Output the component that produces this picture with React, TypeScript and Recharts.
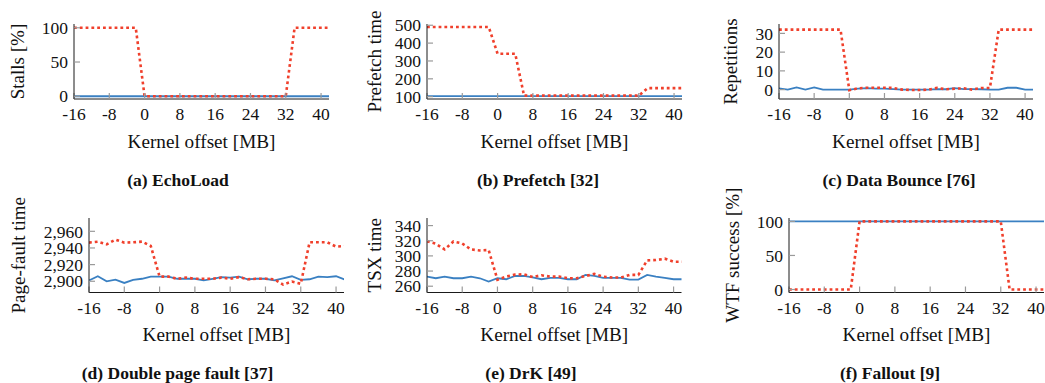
import React from 'react';
import { LineChart, Line, XAxis, YAxis } from 'recharts';

const FONT = '"Liberation Serif", "DejaVu Serif", serif';
const BLUE = '#3a80c2';
const RED = '#f0402c';

// Kernel offsets in MB
const offsets = [-16, -14, -12, -10, -8, -6, -4, -2, 0, 2, 4, 6, 8, 10, 12, 14, 16, 18, 20, 22, 24, 26, 28, 30, 32, 34, 36, 38, 40, 42];
const xTicks = [-16, -8, 0, 8, 16, 24, 32, 40];
const X_DOMAIN: [number, number] = [-16, 41.8];

// (a) EchoLoad
const echoBase = [0, 0, 0, 0, 0, 0, 0, 0, 0, 0, 0, 0, 0, 0, 0, 0, 0, 0, 0, 0, 0, 0, 0, 0, 0, 0, 0, 0, 0, 0];
const echoKaslr = [100, 100, 100, 100, 100, 100, 100, 100, 0, 0, 0, 0, 0, 0, 0, 0, 0, 0, 0, 0, 0, 0, 0, 0, 0, 100, 100, 100, 100, 100];
const echoTicks = [0, 50, 100];

// (b) Prefetch
const prefBase = [103, 103, 103, 103, 103, 103, 103, 103, 103, 103, 103, 103, 103, 103, 103, 103, 103, 103, 103, 103, 103, 103, 103, 103, 103, 103, 103, 103, 103, 103];
const prefKaslr = [490, 490, 490, 490, 490, 490, 490, 490, 340, 340, 340, 106, 106, 106, 106, 106, 106, 106, 106, 106, 106, 106, 106, 106, 106, 148, 148, 148, 148, 148];
const prefTicks = [100, 200, 300, 400, 500];

// (c) Data Bounce
const bounceBase = [0.7, 0, 1.2, 0, 1.2, 0, 0, 0, 0, 0.5, 0.8, 0.5, 0.5, 0.3, 0, 0, 0, 0, 0.3, 0.2, 0.8, 0.3, 0.3, 0.2, 0, 0, 1, 1, 0, 0];
const bounceKaslr = [32, 32, 32, 32, 32, 32, 32, 32, -0.3, 0.7, 1, 1, 1, 0.9, 0, -0.2, -0.2, 0, 0.9, 0.2, 0.5, 0.7, 0, 0.9, 0.9, 32, 32, 32, 32, 32];
const bounceTicks = [0, 10, 20, 30];

// (d) Double page fault
const dpfBase = [2901, 2906, 2900, 2902, 2898, 2901.6, 2903, 2905.6, 2905.6, 2905.6, 2903, 2903, 2903, 2901, 2903, 2905, 2904.4, 2905.6, 2902.4, 2903, 2903, 2901, 2903.6, 2906, 2901.6, 2902.4, 2905.6, 2905, 2906, 2902];
const dpfKaslr = [2946.4, 2947.6, 2944.4, 2950, 2946.4, 2946.8, 2947.6, 2942.4, 2905.6, 2905.6, 2903, 2904.4, 2903, 2903, 2903, 2904.4, 2903, 2905, 2902.4, 2903, 2903, 2902.4, 2896, 2899.6, 2897, 2946.8, 2946.8, 2946.8, 2941.6, 2942.4];
const dpfTicks = [2900, 2920, 2940, 2960];

// (e) DrK
const drkBase = [272.7, 270.5, 272.7, 270.5, 270.5, 272.7, 270.5, 266.1, 270.5, 269.2, 273.5, 273.5, 271.8, 269.2, 270.9, 270.9, 269.2, 269.2, 274.9, 273.5, 270.9, 270.9, 270.9, 268.7, 268.7, 274.9, 272.7, 270.9, 269.2, 269.2];
const drkKaslr = [319.5, 316, 308.5, 319, 316.4, 308.5, 307.2, 307.7, 268.5, 272.7, 275.3, 275.7, 272.2, 274.4, 272.7, 272.7, 270.5, 270.5, 273.5, 276.2, 272.7, 271.4, 271.4, 274.9, 274.9, 294.1, 294.5, 296.3, 292.3, 292.3];
const drkTicks = [260, 280, 300, 320, 340];

// (f) Fallout
const fallBase = [100, 100, 100, 100, 100, 100, 100, 100, 100, 100, 100, 100, 100, 100, 100, 100, 100, 100, 100, 100, 100, 100, 100, 100, 100, 100, 100, 100, 100, 100];
const fallKaslr = [0, 0, 0, 0, 0, 0, 0, 0, 100, 100, 100, 100, 100, 100, 100, 100, 100, 100, 100, 100, 100, 100, 100, 100, 100, 0, 0, 0, 0, 0];
const fallTicks = [0, 50, 100];

const YW = 80;
const MT = 60;
const MR = 12;
const XH = 100;
const TICK = -6;

const tickLineStyle = { stroke: '#9a9a9a', strokeWidth: 1.2 };
const axisStyle = { stroke: '#1a1a1a', strokeWidth: 1 };
const tickText = { fontSize: 17.5, fill: '#111', fontFamily: FONT };

type PanelProps = {
  left: number;
  top: number;
  w: number;
  h: number;
  yDomain: [number, number];
  yTicks: number[];
  yFmt?: (v: number) => string;
  baseline: number[];
  kaslr: number[];
  yLabel: string;
  yLabelX: number;
  title: string;
  titleX: number;
};

function Panel(p: PanelProps) {
  const data = offsets.map((x, i) => ({ x, base: p.baseline[i], kaslr: p.kaslr[i] }));
  const chartLeft = p.left - YW;
  const chartTop = p.top - MT;
  const width = YW + p.w + MR;
  const height = MT + p.h + XH;
  const plotBottom = MT + p.h;
  const plotCenterX = YW + p.w / 2;
  const yLabX = p.yLabelX - chartLeft;
  const yLabY = MT + p.h / 2;
  const blank = () => '';
  return (
    <div style={{ position: 'absolute', left: chartLeft, top: chartTop }}>
      <LineChart
        width={width}
        height={height}
        data={data}
        margin={{ top: MT, right: MR, bottom: 0, left: 0 }}
        style={{ fontFamily: FONT }}
      >
        <XAxis
          xAxisId={0}
          dataKey="x"
          type="number"
          domain={X_DOMAIN}
          allowDataOverflow
          ticks={xTicks}
          interval={0}
          height={XH}
          tickSize={TICK}
          tickMargin={15}
          tickLine={tickLineStyle}
          axisLine={axisStyle}
          tick={tickText}
          label={() => (
            <g>
              <text x={plotCenterX} y={plotBottom + 48.5} textAnchor="middle" fontSize={19.2} fill="#111" fontFamily={FONT}>
                Kernel offset [MB]
              </text>
              <text x={p.titleX - chartLeft} y={plotBottom + 86.5} textAnchor="middle" fontSize={17.5} fontWeight="bold" fill="#111" fontFamily={FONT}>
                {p.title}
              </text>
            </g>
          )}
        />
        <XAxis
          xAxisId="top"
          orientation="top"
          type="number"
          domain={X_DOMAIN}
          allowDataOverflow
          ticks={xTicks}
          interval={0}
          height={0}
          tickSize={TICK}
          tickFormatter={blank}
          tickLine={tickLineStyle}
          axisLine={axisStyle}
          tick={tickText}
        />
        <YAxis
          yAxisId={0}
          type="number"
          domain={p.yDomain}
          allowDataOverflow
          ticks={p.yTicks}
          interval={0}
          width={YW}
          tickSize={TICK}
          tickMargin={12}
          tickFormatter={p.yFmt}
          tickLine={tickLineStyle}
          axisLine={axisStyle}
          tick={tickText}
          label={() => (
            <text
              x={yLabX}
              y={yLabY}
              transform={`rotate(-90, ${yLabX}, ${yLabY})`}
              textAnchor="middle"
              dominantBaseline="central"
              fontSize={19}
              fill="#111"
              fontFamily={FONT}
            >
              {p.yLabel}
            </text>
          )}
        />
        <YAxis
          yAxisId="right"
          orientation="right"
          type="number"
          domain={p.yDomain}
          allowDataOverflow
          ticks={p.yTicks}
          interval={0}
          width={0}
          tickSize={TICK}
          tickFormatter={blank}
          tickLine={tickLineStyle}
          axisLine={axisStyle}
          tick={tickText}
        />
        <Line
          xAxisId={0}
          yAxisId={0}
          dataKey="base"
          type="linear"
          stroke={BLUE}
          strokeWidth={1.8}
          dot={false}
          activeDot={false}
          isAnimationActive={false}
        />
        <Line
          xAxisId={0}
          yAxisId={0}
          dataKey="kaslr"
          type="linear"
          stroke={RED}
          strokeWidth={2.6}
          strokeDasharray="2.8 3"
          dot={false}
          activeDot={false}
          isAnimationActive={false}
        />
      </LineChart>
    </div>
  );
}

const fmtComma = (v: number) => v.toLocaleString('en-US');

export default function App() {
  return (
    <div style={{ position: 'absolute', left: 0, top: 0, width: 1045, height: 383, overflow: 'hidden', background: '#fff' }}>
      <Panel left={74} top={24} w={255} h={75} yDomain={[-4, 105.5]} yTicks={echoTicks} baseline={echoBase} kaslr={echoKaslr} yLabel="Stalls [%]" yLabelX={17.5} title="(a) EchoLoad" titleX={178} />
      <Panel left={427} top={24} w={255} h={75} yDomain={[87, 507]} yTicks={prefTicks} baseline={prefBase} kaslr={prefKaslr} yLabel="Prefetch time" yLabelX={374} title="(b) Prefetch [32]" titleX={538} />
      <Panel left={779} top={24} w={254} h={75} yDomain={[-5, 35]} yTicks={bounceTicks} baseline={bounceBase} kaslr={bounceKaslr} yLabel="Repetitions" yLabelX={730} title="(c) Data Bounce [76]" titleX={899} />
      <Panel left={88.5} top={217.5} w={255} h={74.5} yDomain={[2886.5, 2976]} yTicks={dpfTicks} yFmt={fmtComma} baseline={dpfBase} kaslr={dpfKaslr} yLabel="Page-fault time" yLabelX={17.5} title="(d) Double page fault [37]" titleX={177} />
      <Panel left={427} top={217.5} w={254.5} h={74.5} yDomain={[251.7, 350]} yTicks={drkTicks} baseline={drkBase} kaslr={drkKaslr} yLabel="TSX time" yLabelX={374.5} title="(e) DrK [49]" titleX={531} />
      <Panel left={789} top={217.5} w={255} h={74.5} yDomain={[-4.4, 105]} yTicks={fallTicks} baseline={fallBase} kaslr={fallKaslr} yLabel="WTF success [%]" yLabelX={732.5} title="(f) Fallout [9]" titleX={890} />
    </div>
  );
}
